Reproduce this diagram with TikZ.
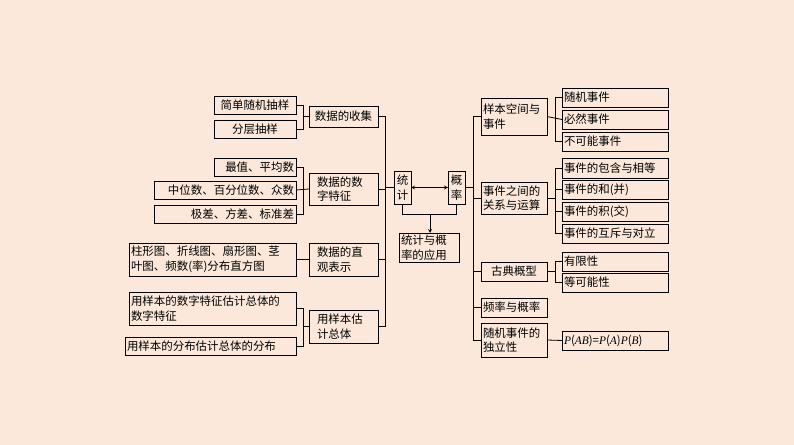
\documentclass[tikz,border=0pt]{standalone}
\usepackage{fontspec}
\setmainfont{Noto Sans CJK SC}
\newfontfamily\lat{Liberation Serif}
\begin{document}
\begin{tikzpicture}[x=1bp,y=-1bp,line width=0.8bp]
\definecolor{bg}{HTML}{FBE8DA}
\fill[bg] (0,0) rectangle (794,445);
\useasboundingbox (0,0) rectangle (794,445);
\tikzset{txt/.style={inner sep=0pt,font=\fontsize{11.5}{14.5}\selectfont}}
\newcommand\B[7]{\pgfmathsetmacro\tw{#4-#2-4}\draw (#2,#3) rectangle (#4,#5); \node[txt,align=#7,text width=\tw bp] (#1) at ({(#2+#4)/2},{(#3+#5)/2}) {#6};
 \coordinate (#1-w) at (#2,{(#3+#5)/2}); \coordinate (#1-e) at (#4,{(#3+#5)/2});}
\B{a1}{214}{96}{296}{114}{简单随机抽样}{center}
\B{a2}{214}{120}{296}{138}{分层抽样}{center}
\B{a3}{214}{158}{296}{176}{最值、平均数}{right}
\B{a4}{154}{181}{296}{199}{中位数、百分位数、众数}{right}
\B{a5}{154}{205}{296}{223}{极差、方差、标准差}{right}
\B{a6}{129}{243}{296}{276}{柱形图、折线图、扇形图、茎\\叶图、频数(率)分布直方图}{left}
\B{a7}{129}{292}{296}{325}{用样本的数字特征估计总体的\\数字特征}{left}
\B{a8}{125}{337}{296}{355}{用样本的分布估计总体的分布}{left}
\B{m1}{309}{106}{378}{127}{数据的收集}{center}
\B{m2}{309}{173}{378}{205}{\hspace*{6bp}数据的数\\\hspace*{6bp}字特征}{left}
\B{m3}{309}{243}{378}{276}{\hspace*{6bp}数据的直\\\hspace*{6bp}观表示}{left}
\B{m4}{309}{310}{378}{343}{\hspace*{6bp}用样本估\\\hspace*{6bp}计总体}{left}
\B{tj}{394}{171}{411}{204}{统\\计}{center}
\B{gl}{448}{171}{465}{204}{概\\率}{center}
\B{ap}{399}{233}{459}{262}{统计与概\\率的应用}{left}
\B{r1}{481}{98}{547}{135}{样本空间与\\事件}{left}
\B{r2}{481}{182}{547}{214}{事件之间的\\关系与运算}{left}
\B{r3}{481}{262}{547}{281}{古典概型}{center}
\B{r4}{481}{298}{547}{317}{频率与概率}{left}
\B{r5}{481}{323}{547}{357}{随机事件的\\独立性}{left}
\B{b1}{562}{88}{668}{107}{随机事件}{left}
\B{b2}{562}{110}{668}{129}{必然事件}{left}
\B{b3}{562}{132}{668}{151}{不可能事件}{left}
\B{b4}{562}{158}{668}{178}{事件的包含与相等}{left}
\B{b5}{562}{180}{668}{199}{事件的和(并)}{left}
\B{b6}{562}{202}{668}{221}{事件的积(交)}{left}
\B{b7}{562}{224}{668}{243}{事件的互斥与对立}{left}
\B{b8}{562}{252}{668}{271}{有限性}{left}
\B{b9}{562}{273}{668}{292}{等可能性}{left}
\B{b10}{562}{331}{668}{350}{{\lat\itshape P}({\lat\itshape AB})={\lat\itshape P}({\lat\itshape A}){\lat\itshape P}({\lat\itshape B})}{left}
% left sub brackets
\draw (a1-e) -| (303,0|-a2-e) -- (a2-e); \draw (303,0|-m1-w) -- (m1-w);
\draw (a3-e) -| (303,0|-a5-e) -- (a5-e); \draw (a4-e) -- (m2-w);
\draw (a6-e) -- (m3-w);
\draw (a7-e) -| (303,0|-a8-e) -- (a8-e); \draw (303,0|-m4-w) -- (m4-w);
% left trunk
\draw (m1-e) -| (385,0|-m4-e) -- (m4-e);
\draw (m2-e) -- (m2-e-|385,0); \draw (m3-e) -- (m3-e-|385,0);
\draw (385,0|-tj-w) -- (tj-w);
\draw[<->,>=stealth] (tj-e) -- (gl-w);
\draw (402,204) -- (402,214) -- (456,214) -- (456,204);
\draw[->,>=stealth] (430,214) -- (430,233);
% right trunk
\draw (gl-e) -- (473,0|-gl-e);
\draw (r1-w) -| (473,0|-r5-w) -- (r5-w);
\draw (473,0|-r2-w) -- (r2-w); \draw (473,0|-r3-w) -- (r3-w); \draw (473,0|-r4-w) -- (r4-w);
% right sub brackets
\draw (b1-w) -| (555,0|-b3-w) -- (b3-w); \draw (b2-w) -- (r1-e);
\draw (b4-w) -| (555,0|-b7-w) -- (b7-w); \draw (b5-w) -- (555,0|-b5-w); \draw (b6-w) -- (555,0|-b6-w);
\draw (555,0|-r2-e) -- (r2-e);
\draw (b8-w) -| (555,0|-b9-w) -- (b9-w); \draw (555,0|-r3-e) -- (r3-e);
\draw (b10-w) -- (r5-e);
\end{tikzpicture}
\end{document}
